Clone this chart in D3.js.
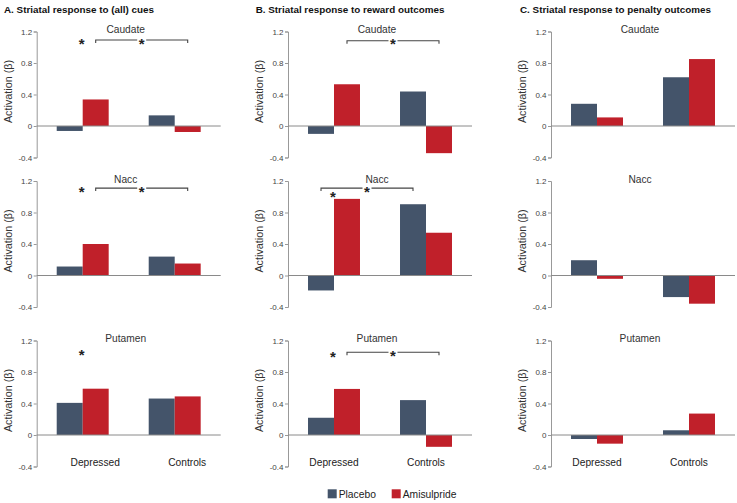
<!DOCTYPE html>
<html>
<head>
<meta charset="utf-8">
<script src="https://cdn.jsdelivr.net/npm/d3@7"></script>
<style>
  html, body { margin: 0; padding: 0; background: #fff; }
  svg { display: block; font-family: "Liberation Sans", Arial, sans-serif; }
</style>
</head>
<body>
<svg id="chart" width="737" height="503"></svg>
<script>
// ---------- data ----------
const columnTitles = [
  "A. Striatal response to (all) cues",
  "B. Striatal response to reward outcomes",
  "C. Striatal response to penalty outcomes"
];
const regions = ["Caudate", "Nacc", "Putamen"];
const groups = ["Depressed", "Controls"];
const seriesNames = ["Placebo", "Amisulpride"];
const yTicks = [-0.4, 0, 0.4, 0.8, 1.2];
const yTickLabels = ["-0.4", "0", "0.4", "0.8", "1.2"];

// values per region: [Depressed, Controls]
const cuesPlacebo        = [[-0.063, 0.135], [0.114, 0.240], [0.408, 0.463]];
const cuesAmisulpride    = [[0.337, -0.076], [0.400, 0.152], [0.588, 0.490]];
const rewardPlacebo      = [[-0.100, 0.438], [-0.190, 0.905], [0.219, 0.443]];
const rewardAmisulpride  = [[0.530, -0.345], [0.973, 0.543], [0.585, -0.150]];
const penaltyPlacebo     = [[0.282, 0.619], [0.194, -0.274], [-0.051, 0.060]];
const penaltyAmisulpride = [[0.109, 0.850], [-0.042, -0.358], [-0.110, 0.272]];

// significance marks: single star over a group, bracket between same-series bars
const stars = [
  { col: 0, row: 0, group: "Depressed", value: 1.086 },
  { col: 0, row: 1, group: "Depressed", value: 1.11 },
  { col: 0, row: 2, group: "Depressed", value: 1.065 },
  { col: 1, row: 1, group: "Depressed", value: 1.04 },
  { col: 1, row: 2, group: "Depressed", value: 1.037 }
];
const brackets = [
  { col: 0, row: 0, series: "Amisulpride", value: 1.092 },
  { col: 0, row: 1, series: "Amisulpride", value: 1.11 },
  { col: 1, row: 0, series: "Amisulpride", value: 1.083 },
  { col: 1, row: 1, series: "Placebo", value: 1.11 },
  { col: 1, row: 2, series: "Amisulpride", value: 1.05 }
];

const colData = [
  [cuesPlacebo, cuesAmisulpride],
  [rewardPlacebo, rewardAmisulpride],
  [penaltyPlacebo, penaltyAmisulpride]
];

// ---------- layout ----------
const colX = [36.7, 288, 551];
const rowTop = [31.5, 181, 340.5];
const plotW = 184, plotH = 126;
const groupLabelShift = [12.5, 0, 0];
const colors = { Placebo: "#44546A", Amisulpride: "#C0202A" };

const svg = d3.select("#chart");

const x0 = d3.scaleBand().domain(groups).range([0, plotW]).padding(0);
const x1 = d3.scaleBand().domain(seriesNames).range([0, x0.bandwidth()]).paddingInner(0).paddingOuter(0.77);
const y = d3.scaleLinear().domain([-0.4, 1.2]).range([plotH, 0]);

// column titles
columnTitles.forEach((t, c) => {
  svg.append("text")
    .attr("x", [4, 255.7, 520][c])
    .attr("y", 12.5)
    .attr("font-size", "9.85px")
    .attr("font-weight", "bold")
    .attr("fill", "#111")
    .text(t);
});

colData.forEach((pair, c) => {
  regions.forEach((region, r) => {
    const g = svg.append("g").attr("transform", `translate(${colX[c]},${rowTop[r]})`);

    // y axis
    const ax = g.append("g").call(
      d3.axisLeft(y).tickValues(yTicks).tickSize(3).tickPadding(1.5)
        .tickFormat((d, i) => yTickLabels[i])
    );
    ax.select(".domain").attr("stroke", "#999").attr("stroke-width", 1);
    ax.selectAll(".tick line").attr("stroke", "#999");
    ax.selectAll(".tick text")
      .attr("font-size", "8px")
      .attr("fill", "#444")
      .attr("font-family", "'Liberation Sans', Arial, sans-serif");

    // y label
    g.append("text")
      .attr("transform", `translate(-25,${plotH / 2 - 3}) rotate(-90)`)
      .attr("text-anchor", "middle")
      .attr("font-size", "10.8px")
      .attr("fill", "#333")
      .text("Activation (β)");

    // bars
    const rows = [];
    groups.forEach((grp, gi) => {
      seriesNames.forEach((s, si) => {
        rows.push({ group: grp, series: s, value: pair[si][r][gi] });
      });
    });
    g.selectAll("rect.bar").data(rows).join("rect")
      .attr("class", "bar")
      .attr("x", d => x0(d.group) + x1(d.series))
      .attr("width", x1.bandwidth())
      .attr("y", d => y(Math.max(0, d.value)))
      .attr("height", d => Math.abs(y(d.value) - y(0)))
      .attr("fill", d => colors[d.series]);

    // zero line
    g.append("line")
      .attr("x1", 0).attr("x2", plotW)
      .attr("y1", y(0)).attr("y2", y(0))
      .attr("stroke", "#8a8a8a").attr("stroke-width", 1);

    // region title
    g.append("text")
      .attr("x", plotW / 2 - 3)
      .attr("y", 1.5)
      .attr("text-anchor", "middle")
      .attr("font-size", "10.2px")
      .attr("fill", "#333")
      .text(region);

    // group labels on the bottom row
    if (r === 2) {
      groups.forEach(grp => {
        g.append("text")
          .attr("x", x0(grp) + x0.bandwidth() / 2 + groupLabelShift[c])
          .attr("y", plotH - 0.5)
          .attr("text-anchor", "middle")
          .attr("font-size", "10.2px")
          .attr("fill", "#222")
          .text(grp);
      });
    }

    // stars
    stars.filter(s => s.col === c && s.row === r).forEach(s => {
      g.append("text")
        .attr("x", x0(s.group) + x0.bandwidth() / 2 - 1)
        .attr("y", y(s.value) + 8.5)
        .attr("text-anchor", "middle")
        .attr("font-size", "15px")
        .attr("font-weight", "bold")
        .attr("fill", "#222")
        .text("*");
    });

    // brackets
    brackets.filter(b => b.col === c && b.row === r).forEach(b => {
      const xa = x0(groups[0]) + x1(b.series) + x1.bandwidth() / 2;
      const xb = x0(groups[1]) + x1(b.series) + x1.bandwidth() / 2;
      const yy = y(b.value);
      const mid = (xa + xb) / 2;
      const gap = 4.5;
      g.append("path")
        .attr("d", `M${xa},${yy + 3}V${yy}H${mid - gap}M${mid + gap},${yy}H${xb}V${yy + 3}`)
        .attr("fill", "none").attr("stroke", "#444").attr("stroke-width", 1.1);
      g.append("text")
        .attr("x", mid)
        .attr("y", yy + 8.5)
        .attr("text-anchor", "middle")
        .attr("font-size", "15px")
        .attr("font-weight", "bold")
        .attr("fill", "#222")
        .text("*");
    });
  });
});

// legend
const legendX = [327.7, 391.7];
seriesNames.forEach((s, i) => {
  svg.append("rect")
    .attr("x", legendX[i]).attr("y", 489.3)
    .attr("width", 9).attr("height", 9)
    .attr("fill", colors[s]);
  svg.append("text")
    .attr("x", legendX[i] + 11)
    .attr("y", 497.5)
    .attr("font-size", "10.3px")
    .attr("fill", "#222")
    .text(s);
});
</script>
</body>
</html>
